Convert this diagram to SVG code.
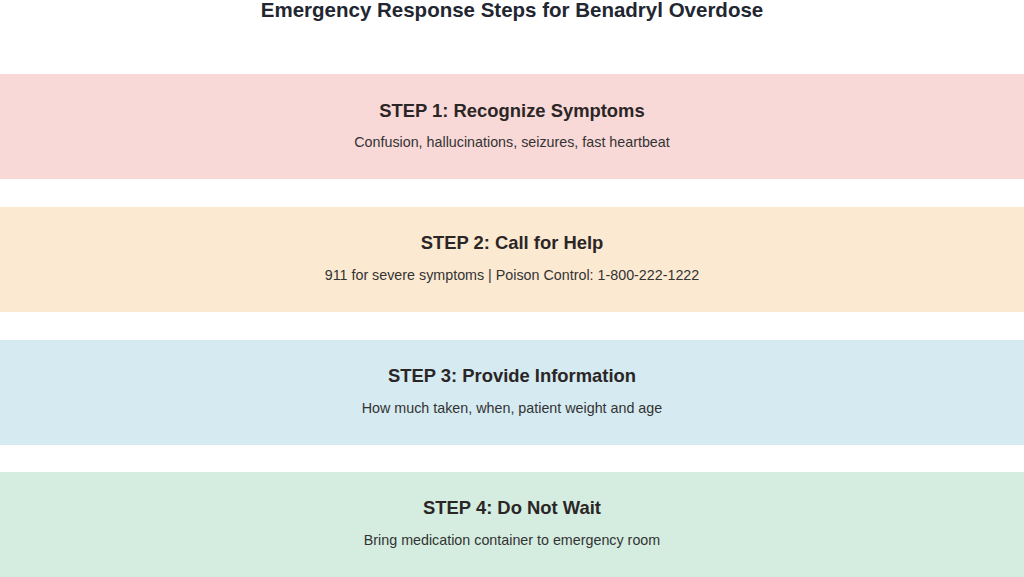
<svg xmlns="http://www.w3.org/2000/svg" width="1024" height="577" viewBox="0 0 1024 577">
<style>
.title{font-family:"Liberation Sans",Arial,sans-serif;font-weight:bold;font-size:20.5px;fill:#222631;text-anchor:middle}
.h{font-family:"Liberation Sans",Arial,sans-serif;font-weight:bold;font-size:18.4px;fill:#2b2626;text-anchor:middle}
.s{font-family:"Liberation Sans",Arial,sans-serif;font-size:14.3px;fill:#333;text-anchor:middle}
</style>
<rect width="1024" height="577" fill="#ffffff"/>
<text class="title" x="512" y="16.5">Emergency Response Steps for Benadryl Overdose</text>
<g id="step1">
<rect x="0" y="74" width="1024" height="105" fill="#f8d9d7"/>
<text class="h" x="512" y="117">STEP 1: Recognize Symptoms</text>
<text class="s" x="512" y="147">Confusion, hallucinations, seizures, fast heartbeat</text>
</g>
<g id="step2">
<rect x="0" y="207" width="1024" height="105" fill="#fbe9d1"/>
<text class="h" x="512" y="249">STEP 2: Call for Help</text>
<text class="s" x="512" y="280">911 for severe symptoms | Poison Control: 1-800-222-1222</text>
</g>
<g id="step3">
<rect x="0" y="340" width="1024" height="105" fill="#d5eaf1"/>
<text class="h" x="512" y="382">STEP 3: Provide Information</text>
<text class="s" x="512" y="413">How much taken, when, patient weight and age</text>
</g>
<g id="step4">
<rect x="0" y="472" width="1024" height="105" fill="#d4ede0"/>
<text class="h" x="512" y="514">STEP 4: Do Not Wait</text>
<text class="s" x="512" y="545">Bring medication container to emergency room</text>
</g>
<g id="connectors"></g>
</svg>
